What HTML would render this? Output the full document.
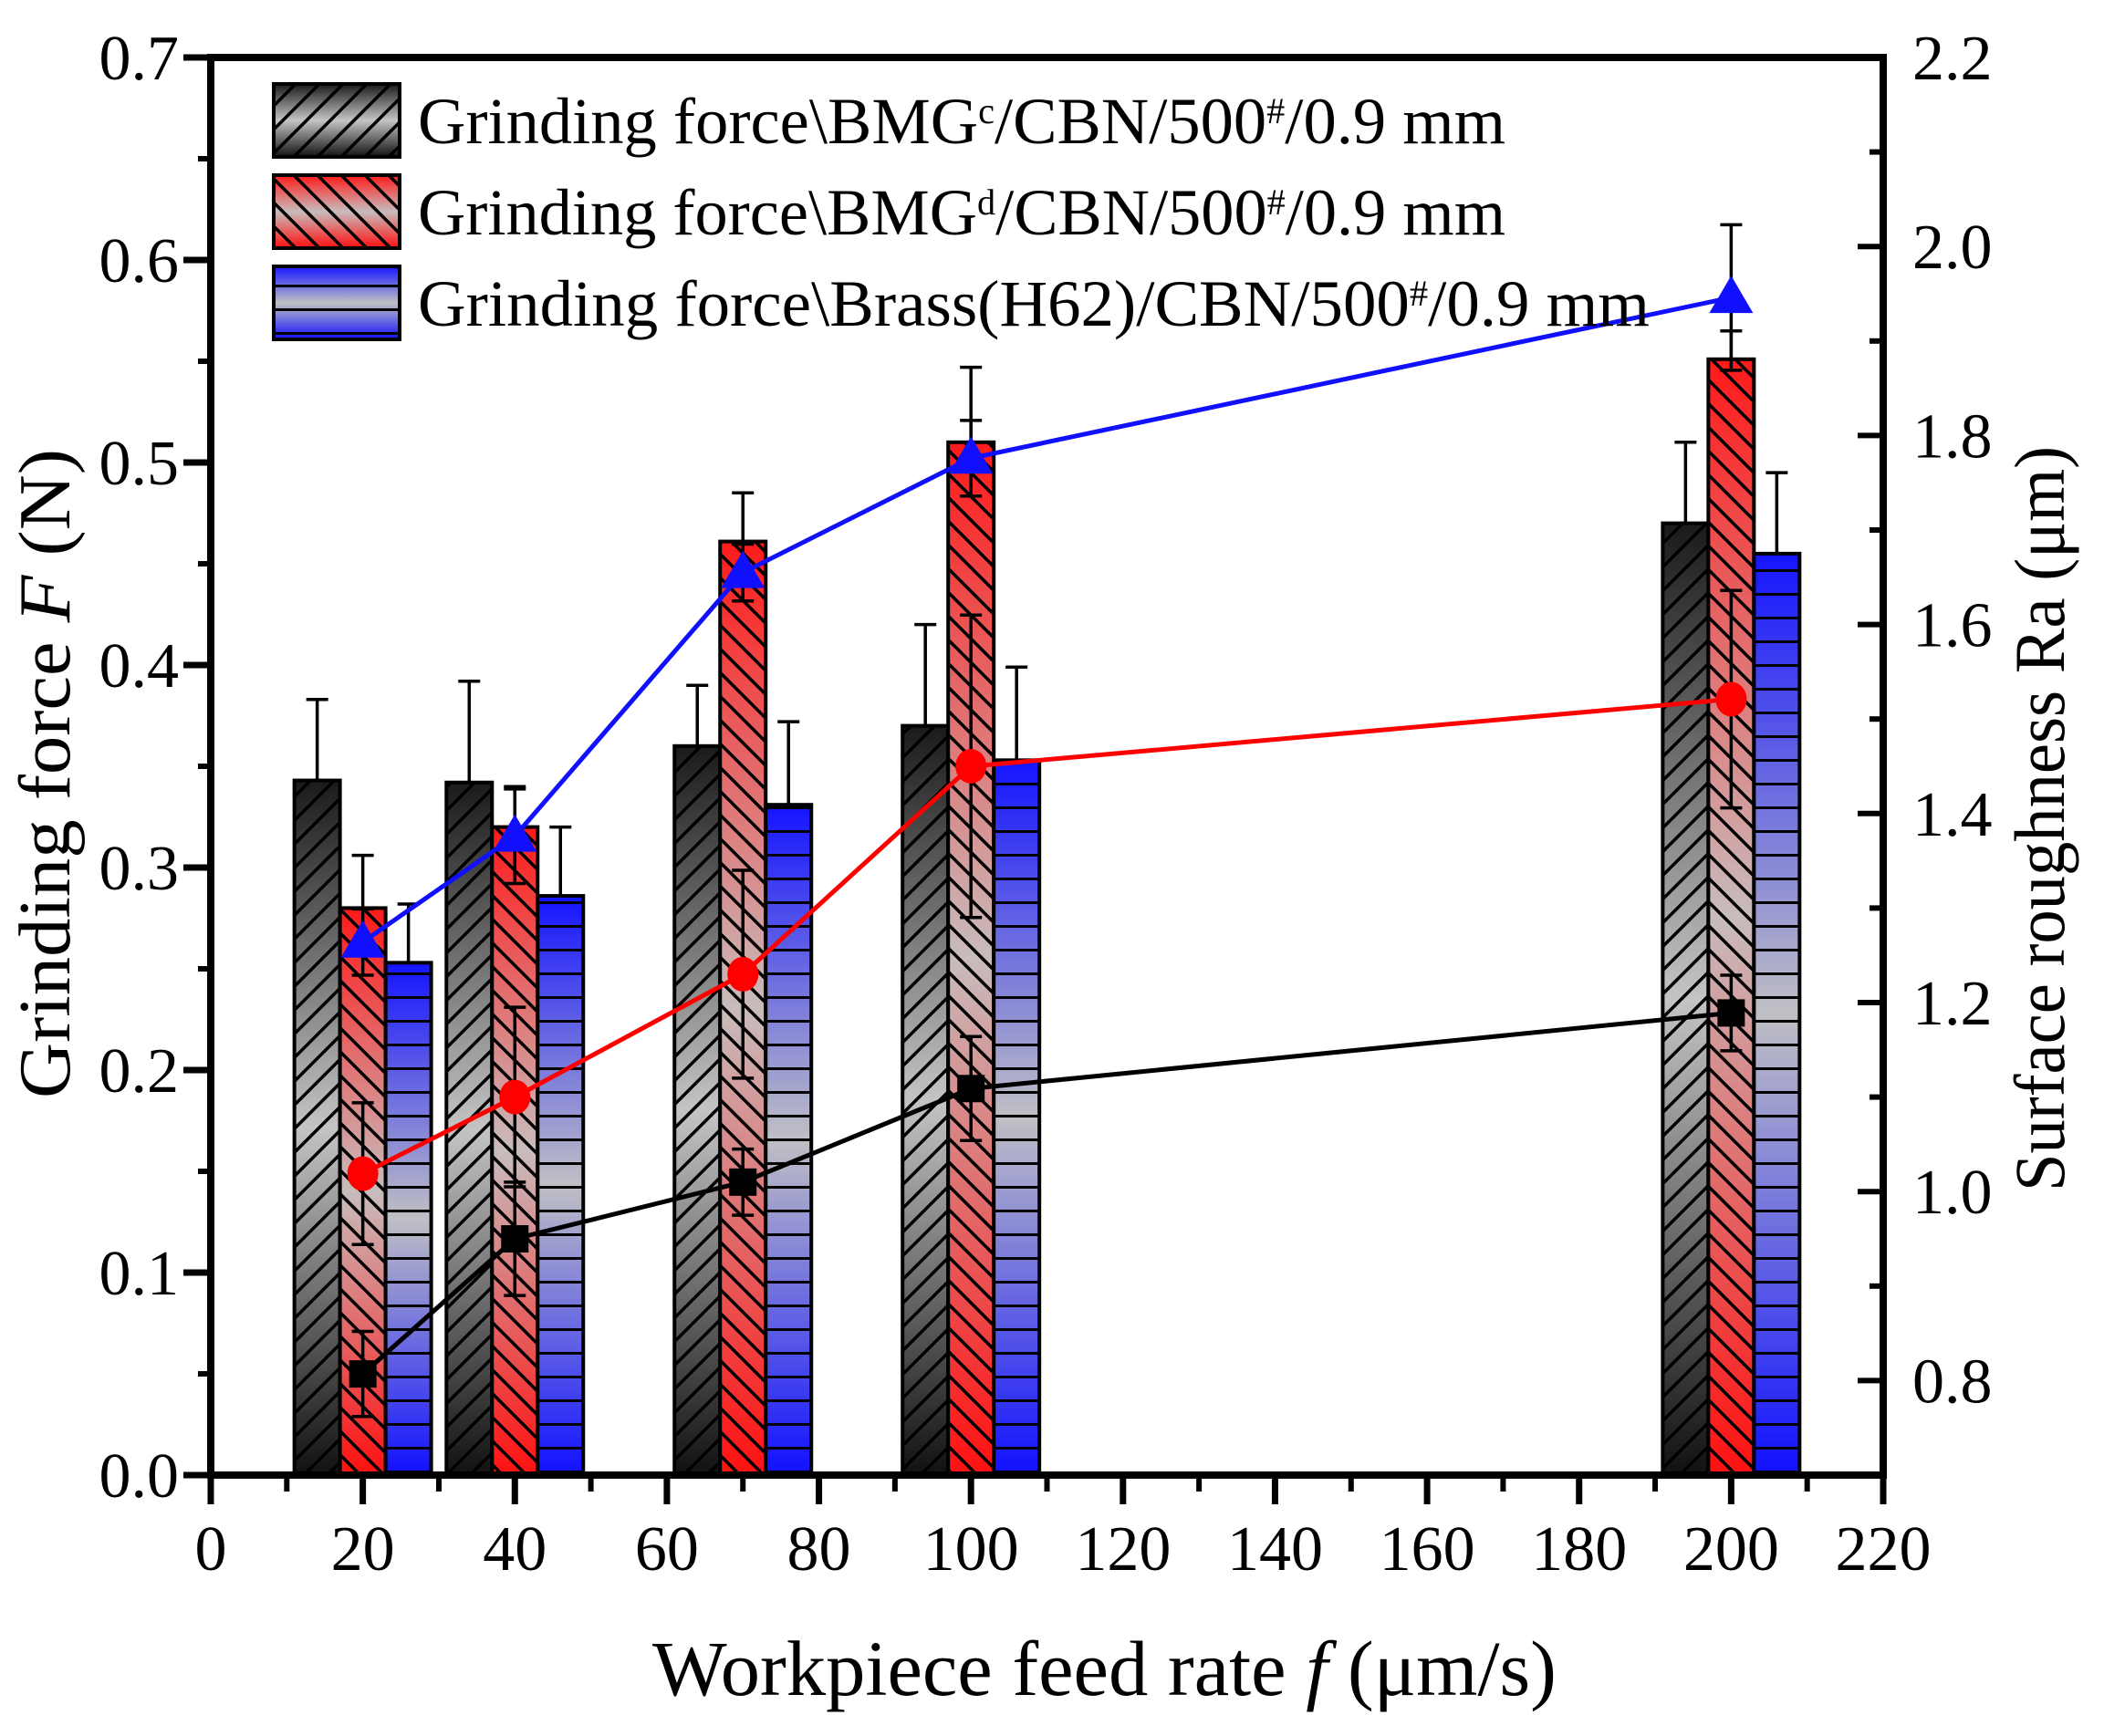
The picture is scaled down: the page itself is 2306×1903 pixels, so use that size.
<!DOCTYPE html>
<html><head><meta charset="utf-8"><style>
html,body{margin:0;padding:0;background:#fff}
svg{display:block}
text{font-family:"Liberation Serif","DejaVu Serif",serif;fill:#000}
</style></head><body>
<svg id="chart" width="2306" height="1903" viewBox="0 0 2306 1903" xmlns="http://www.w3.org/2000/svg">
<defs>
<linearGradient id="gBlack" x1="0" y1="0" x2="0" y2="1"><stop offset="0" stop-color="#1a1a1a"/><stop offset="0.5" stop-color="#c4c4c4"/><stop offset="1" stop-color="#111"/></linearGradient>
<linearGradient id="gRed" x1="0" y1="0" x2="0" y2="1"><stop offset="0" stop-color="#ff1a1a"/><stop offset="0.5" stop-color="#c8bcbc"/><stop offset="1" stop-color="#ff1010"/></linearGradient>
<linearGradient id="gBlue" x1="0" y1="0" x2="0" y2="1"><stop offset="0" stop-color="#1414ff"/><stop offset="0.5" stop-color="#c0c0c4"/><stop offset="1" stop-color="#1010ff"/></linearGradient>
<pattern id="hBlack" patternUnits="userSpaceOnUse" width="26" height="26"><path d="M-6,32 L32,-6 M-19,19 L19,-19 M7,45 L45,7" stroke="#000" stroke-width="3.5"/></pattern>
<pattern id="hRed" patternUnits="userSpaceOnUse" width="26" height="26"><path d="M-6,-6 L32,32 M-19,7 L19,45 M7,-19 L45,19" stroke="#000" stroke-width="3.5"/></pattern>
<pattern id="hBlue" patternUnits="userSpaceOnUse" width="26" height="26"><path d="M0,1 L26,1" stroke="#000" stroke-width="4"/></pattern>
</defs>
<g id="plot"></g>
<g id="axes"></g>
<g id="legend"></g>
</svg>
<script>
const feedRates = [20, 40, 70, 100, 200];
const forceBMGc = [0.343, 0.342, 0.360, 0.370, 0.470];
const forceBMGcErr = [0.040, 0.050, 0.030, 0.050, 0.040];
const forceBMGd = [0.280, 0.320, 0.461, 0.510, 0.551];
const forceBMGdErr = [0.026, 0.020, 0.024, 0.037, 0.014];
const forceBrass = [0.253, 0.286, 0.331, 0.353, 0.455];
const forceBrassErr = [0.029, 0.034, 0.041, 0.046, 0.040];
const raBMGc = [0.807, 0.950, 1.010, 1.109, 1.189];
const raBMGcErr = [0.045, 0.060, 0.035, 0.055, 0.040];
const raBMGd = [1.019, 1.100, 1.230, 1.450, 1.521];
const raBMGdErr = [0.075, 0.095, 0.110, 0.160, 0.115];
const raBrass = [1.264, 1.376, 1.655, 1.776, 1.946];
const raBrassErr = [0.035, 0.050, 0.030, 0.040, 0.077];
const xTicks = [0,20,40,60,80,100,120,140,160,180,200,220];
const yLeftTicks = ["0.0","0.1","0.2","0.3","0.4","0.5","0.6","0.7"];
const yRightTicks = ["0.8","1.0","1.2","1.4","1.6","1.8","2.0","2.2"];

const NS="http://www.w3.org/2000/svg";
const X0=231, X1=2064, Y0=1617, Y1=63;
function X(v){return X0+(v/220)*(X1-X0);}
function YL(v){return Y0-(v/0.7)*(Y0-Y1);}
function YR(v){return Y0-((v-0.7)/1.5)*(Y0-Y1);}
function mk(tag,attrs,parent){const e=document.createElementNS(NS,tag);for(const k in attrs)e.setAttribute(k,attrs[k]);parent.appendChild(e);return e;}
const plot=document.getElementById('plot'), axes=document.getElementById('axes'), legend=document.getElementById('legend');
const barW=X(6)-X(0);
const barSeries=[
 {vals:forceBMGc,err:forceBMGc.map((_,i)=>forceBMGcErr[i]),off:-6,g:'gBlack',h:'hBlack',name:'bmgc'},
 {vals:forceBMGd,err:forceBMGdErr,off:0,g:'gRed',h:'hRed',name:'bmgd'},
 {vals:forceBrass,err:forceBrassErr,off:6,g:'gBlue',h:'hBlue',name:'brass'}];
const errG=mk('g',{},plot);
barSeries.forEach(s=>{
 s.vals.forEach((v,i)=>{
  const cx=X(feedRates[i]+s.off), x=cx-barW/2, y=YL(v), h=YL(0)-y;
  const g=mk('g',{},plot);
  
  
  mk('rect',{x:x,y:y,width:barW,height:h,fill:'url(#'+s.g+')'},g);
  mk('rect',{x:x,y:y,width:barW,height:h,fill:'url(#'+s.h+')'},g);
  mk('rect',{x:x,y:y,width:barW,height:h,fill:'none',stroke:'#000','stroke-width':4},g);
  const eb=mk('path',{d:`M${cx},${YL(v+s.err[i])}V${YL(v-s.err[i])}M${cx-12},${YL(v+s.err[i])}h24M${cx-12},${YL(v-s.err[i])}h24`,stroke:'#000','stroke-width':3.5,fill:'none'},errG);
  
  
 });
});
const lineSeries=[
 {vals:raBMGc,err:raBMGcErr,c:'#000',m:'square',name:'ra-bmgc'},
 {vals:raBMGd,err:raBMGdErr,c:'#ff0000',m:'circle',name:'ra-bmgd'},
 {vals:raBrass,err:raBrassErr,c:'#1010ff',m:'triangle',name:'ra-brass'}];
lineSeries.forEach(s=>{
 const g=mk('g',{},plot);
 
 
 s.vals.forEach((v,i)=>{const cx=X(feedRates[i]);
  mk('path',{d:`M${cx},${YR(v+s.err[i])}V${YR(v-s.err[i])}M${cx-12},${YR(v+s.err[i])}h24M${cx-12},${YR(v-s.err[i])}h24`,stroke:'#000','stroke-width':3.5,fill:'none'},g);});
 mk('polyline',{points:s.vals.map((v,i)=>X(feedRates[i])+','+YR(v)).join(' '),fill:'none',stroke:s.c,'stroke-width':5},g);
 s.vals.forEach((v,i)=>{const cx=X(feedRates[i]),cy=YR(v);let e;
  if(s.m==='square')e=mk('rect',{x:cx-15,y:cy-15,width:30,height:30,fill:s.c},g);
  else if(s.m==='circle')e=mk('ellipse',{cx:cx,cy:cy,rx:17,ry:19,fill:s.c},g);
  else e=mk('path',{d:`M${cx},${cy-24}L${cx+24},${cy+17}L${cx-24},${cy+17}Z`,fill:s.c},g);
  
  });
});
// axes frame
const fr=mk('path',{d:`M${X0},${Y1}H${X1}V${Y0}H${X0}Z`,fill:'none',stroke:'#000','stroke-width':8},axes);


// x ticks
xTicks.forEach(v=>{const x=X(v);
 mk('line',{x1:x,y1:Y0,x2:x,y2:Y0+32,stroke:'#000','stroke-width':7},axes);
 if(v<220)mk('line',{x1:X(v+10),y1:Y0,x2:X(v+10),y2:Y0+18,stroke:'#000','stroke-width':6},axes);
 const t=mk('text',{x:x,y:1721,'font-size':70,'text-anchor':'middle'},axes);t.textContent=v;
 
 });
// left ticks
yLeftTicks.forEach((lab,i)=>{const v=parseFloat(lab),y=YL(v);
 mk('line',{x1:X0-30,y1:y,x2:X0,y2:y,stroke:'#000','stroke-width':7},axes);
 if(i<7)mk('line',{x1:X0-14,y1:YL(v+0.05),x2:X0,y2:YL(v+0.05),stroke:'#000','stroke-width':6},axes);
 const t=mk('text',{x:196,y:y+24,'font-size':70,'text-anchor':'end'},axes);t.textContent=lab;
 
 });
// right ticks
yRightTicks.forEach((lab,i)=>{const v=parseFloat(lab),y=YR(v);
 mk('line',{x1:X1-28,y1:y,x2:X1,y2:y,stroke:'#000','stroke-width':6},axes);
 mk('line',{x1:X1-15,y1:YR(v-0.1),x2:X1,y2:YR(v-0.1),stroke:'#000','stroke-width':6},axes);
 const t=mk('text',{x:2096,y:y+24,'font-size':70},axes);t.textContent=lab;
 
 });
// titles
let t=mk('text',{x:715,y:1858,'font-size':86,textLength:991,lengthAdjust:'spacingAndGlyphs'},axes);
t.innerHTML='Workpiece feed rate <tspan font-style="italic">f</tspan> (μm/s)';


t=mk('text',{x:0,y:0,'font-size':80,textLength:712,lengthAdjust:'spacingAndGlyphs',transform:'translate(76,1204) rotate(-90)'},axes);
t.innerHTML='Grinding force <tspan font-style="italic">F</tspan> (N)';


t=mk('text',{x:0,y:0,'font-size':78,textLength:817,lengthAdjust:'spacingAndGlyphs',transform:'translate(2262,1306) rotate(-90)'},axes);
t.textContent='Surface roughness Ra (μm)';


// legend
const legItems=[
 {g:'gBlack',h:'hBlack',html:'Grinding force\\BMG<tspan baseline-shift="super" font-size="40">c</tspan>/CBN/500<tspan baseline-shift="super" font-size="40">#</tspan>/0.9 mm',w:1192,name:'legend-bmgc'},
 {g:'gRed',h:'hRed',html:'Grinding force\\BMG<tspan baseline-shift="super" font-size="40">d</tspan>/CBN/500<tspan baseline-shift="super" font-size="40">#</tspan>/0.9 mm',w:1192,name:'legend-bmgd'},
 {g:'gBlue',h:'hBlue',html:'Grinding force\\Brass(H62)/CBN/500<tspan baseline-shift="super" font-size="40">#</tspan>/0.9 mm',w:1350,name:'legend-brass'}];
legItems.forEach((it,i)=>{const y=92+i*100;
 const g=mk('g',{},legend);
 
 
 mk('rect',{x:300,y:y,width:138,height:80,fill:'url(#'+it.g+')'},g);
 mk('rect',{x:300,y:y,width:138,height:80,fill:'url(#'+it.h+')'},g);
 mk('rect',{x:300,y:y,width:138,height:80,fill:'none',stroke:'#000','stroke-width':4},g);
 const tx=mk('text',{x:458,y:y+65,'font-size':72,textLength:it.w,lengthAdjust:'spacingAndGlyphs'},g);
 tx.innerHTML=it.html;});
</script>
</body></html>
